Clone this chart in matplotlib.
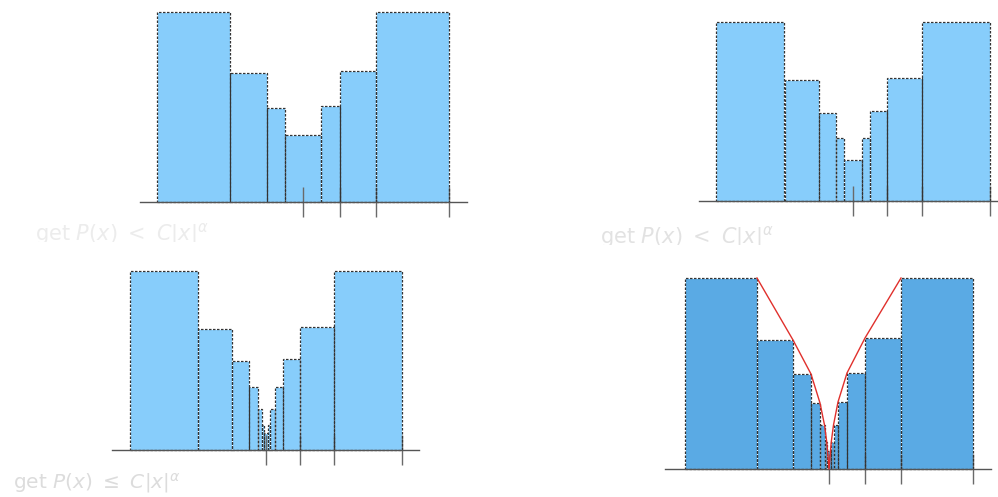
import matplotlib
matplotlib.use("Agg")
import matplotlib.pyplot as plt
from matplotlib.transforms import Bbox

W, H = 998, 497

# dyadic cells on [-1, 1] and the bar heights over each cell
edges_1 = [-1, -1/2, -1/4, -1/8, 1/8, 1/4, 1/2, 1]
heights_1 = [190, 129, 94, 67, 96, 131, 190]

edges_2 = [-1, -1/2, -1/4, -1/8, -1/16, 1/16, 1/8, 1/4, 1/2, 1]
heights_2 = [179, 121, 88, 63, 41, 63, 90, 123, 179]

edges_3 = [-1, -1/2, -1/4, -1/8, -1/16, -1/32, -1/64,
           1/64, 1/32, 1/16, 1/8, 1/4, 1/2, 1]
heights_3 = [179, 121, 89, 63, 41, 25, 17, 25, 41, 63, 91, 123, 179]

edges_4 = edges_3
heights_4 = [191, 129, 95, 66, 44, 27, 18, 27, 44, 67, 96, 131, 191]

# bound C|x|^alpha through the inner corners of the bars
bound_x = [-1/2, -1/4, -1/8, -1/16, -1/32, -1/64, 0,
           1/64, 1/32, 1/16, 1/8, 1/4, 1/2]
bound_y = [191, 129, 95, 66, 44, 27, 0, 27, 44, 67, 96, 131, 191]

tick_pos = [0, 1/4, 1/2, 1]

caption_lt = r"get $P(x)\ <\ C|x|^{\alpha}$"
caption_le = r"get $P(x)\ \leq\ C|x|^{\alpha}$"

fig = plt.figure(figsize=(W / 100, H / 100), dpi=100)


def panel(zero, scale, base, xlo, xhi, edges, heights, color, top=200):
    # place the axes so that one x unit is `scale` pixels and y is in pixels
    left = (zero + xlo * scale) / W
    width = (xhi - xlo) * scale / W
    bottom = (H - base - 14) / H
    ax = fig.add_axes([left, bottom, width, (top + 14) / H])
    ax.set_xlim(xlo, xhi)
    ax.set_ylim(-14, top)
    ax.patch.set_alpha(0)

    lefts = edges[:-1]
    widths = [b - a for a, b in zip(edges[:-1], edges[1:])]
    ax.bar(lefts, heights, width=widths, align="edge", color=color,
           edgecolor="white", linewidth=0.6, zorder=1)
    ax.bar(lefts, heights, width=widths, align="edge", fill=False,
           edgecolor="#333333", linewidth=0.9, linestyle=(0, (2, 1.2)),
           zorder=2)

    for s in ["top", "right", "left"]:
        ax.spines[s].set_visible(False)
    ax.spines["bottom"].set_position(("data", 0))
    ax.spines["bottom"].set_color("#555555")
    ax.spines["bottom"].set_linewidth(1.0)
    ax.set_xticks(tick_pos)
    ax.set_xticklabels([])
    ax.set_yticks([])
    ax.tick_params(axis="x", direction="inout", length=21, width=1.0,
                   color="#6a6a6a")
    return ax


panel(303, 146, 202, -1.116, 1.123, edges_1, heights_1, "#87cdfb")
panel(853, 137, 201, -1.124, 1.06, edges_2, heights_2, "#87cdfb")
panel(266, 136, 450, -1.132, 1.125, edges_3, heights_3, "#87cdfb")
ax4 = panel(829, 144, 469, -1.139, 1.125, edges_4, heights_4, "#5aaae4")
ax4.plot(bound_x, bound_y, color="#e0302c", linewidth=1.0, zorder=3)

# faded captions under the panels, the top two cut along the row edge
t1 = fig.text(35 / W, 1 - 240 / H, caption_lt, fontsize=15,
              color="#ececec", va="baseline", ha="left")
t1.set_clip_box(Bbox.from_extents(0, H - 242, W, H))
t1.set_clip_on(True)
t2 = fig.text(600 / W, 1 - 243 / H, caption_lt, fontsize=15,
              color="#e2e2e2", va="baseline", ha="left")
t2.set_clip_box(Bbox.from_extents(0, H - 245, W, H))
t2.set_clip_on(True)
fig.text(13 / W, 1 - 488 / H, caption_le, fontsize=14.5,
         color="#dcdcdc", va="baseline", ha="left")

fig.savefig("out.png", dpi=100)
